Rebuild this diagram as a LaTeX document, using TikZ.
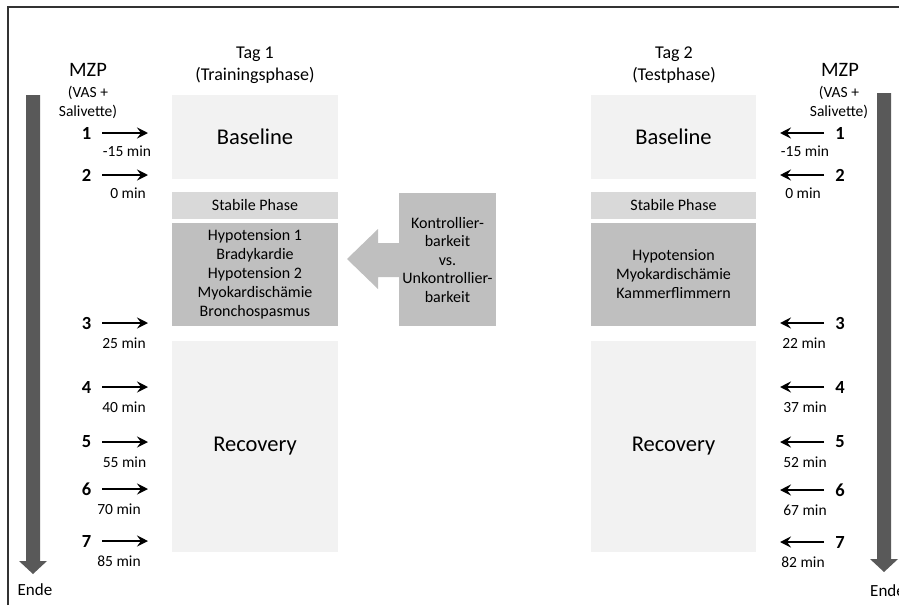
\documentclass[tikz,border=0pt]{standalone}
\usepackage{fontspec}
\setmainfont{Carlito}
\usetikzlibrary{arrows.meta}
\definecolor{lightbox}{HTML}{F2F2F2}
\definecolor{midbox}{HTML}{D9D9D9}
\definecolor{darkbox}{HTML}{BFBFBF}
\definecolor{timebar}{HTML}{595959}
\begin{document}
\begin{tikzpicture}[x=1pt,y=-1pt,
  phase/.style={anchor=north west,inner sep=0pt,outer sep=0pt,align=center,minimum width=166pt},
  mzp/.style={-{Stealth[length=11pt,width=11pt,inset=4pt]},line width=2.4pt,shorten <=9pt},
  num/.style={font=\fontsize{18.5}{20}\selectfont\bfseries,inner sep=2pt},
  tmin/.style={font=\fontsize{15.5}{17}\selectfont,inner sep=0pt}]
  \useasboundingbox (0,0) rectangle (899,605);
  \draw[black!80,line width=1.2pt] (8,605) -- (8,7) -- (899,7);
  % time bars
  \fill[timebar] (26,95) -- (40,95) -- (40,561) -- (47,561) -- (33,574) -- (19,561) -- (26,561) -- cycle;
  \fill[timebar] (877,93) -- (891,93) -- (891,559) -- (898,559) -- (884,572) -- (870,559) -- (877,559) -- cycle;
  \node[font=\fontsize{17}{19}\selectfont] (endeL) at (35,590) {Ende};
  \node[font=\fontsize{17}{19}\selectfont,anchor=west,inner sep=0pt] (endeR) at (870,591) {Ende};
  % Tag 1
  \node[font=\fontsize{18}{22}\selectfont,align=center] (tag1) at (255,65) {Tag 1\\(Trainingsphase)};
  \node[phase,fill=lightbox,minimum height=84pt,font=\fontsize{22.5}{26}\selectfont] (baseL) at (172,95) {Baseline};
  \node[phase,fill=midbox,minimum height=27pt,font=\fontsize{16}{19}\selectfont] (stabL) at (172,192) {Stabile Phase};
  \node[phase,fill=darkbox,minimum height=103pt,font=\fontsize{16}{19}\selectfont] (hypoL) at (172,223)
       {Hypotension 1\\Bradykardie\\Hypotension 2\\Myokardischämie\\Bronchospasmus};
  \node[phase,fill=lightbox,minimum height=211pt,font=\fontsize{22.5}{26}\selectfont] (recL) at (172,341) {Recovery};
  % Tag 2
  \node[font=\fontsize{18}{22}\selectfont,align=center] (tag2) at (674,65) {Tag 2\\(Testphase)};
  \node[phase,fill=lightbox,minimum width=165pt,minimum height=84pt,font=\fontsize{22.5}{26}\selectfont] (baseR) at (591,95) {Baseline};
  \node[phase,fill=midbox,minimum width=165pt,minimum height=27pt,font=\fontsize{16}{19}\selectfont] (stabR) at (591,192) {Stabile Phase};
  \node[phase,fill=darkbox,minimum width=165pt,minimum height=103pt,font=\fontsize{16}{19}\selectfont] (hypoR) at (591,223)
       {Hypotension\\Myokardischämie\\Kammerflimmern};
  \node[phase,fill=lightbox,minimum width=165pt,minimum height=211pt,font=\fontsize{22.5}{26}\selectfont] (recR) at (591,341) {Recovery};
  % Kontrollierbarkeit
  \node[phase,fill=darkbox,minimum width=97pt,minimum height=133pt,font=\fontsize{16}{18.5}\selectfont] (ctrl) at (399,193)
       {Kontrollier-\\barkeit\\vs.\\Unkontrollier-\\barkeit};
  \fill[darkbox] (399.5,243) -- (378,243) -- (378,229) -- (347,259) -- (378,289) -- (378,277) -- (399.5,277) -- cycle;
  % MZP links
  \node[font=\fontsize{20.5}{24}\selectfont] (mzpL) at (88,70) {MZP};
  \node[font=\fontsize{15.5}{19}\selectfont,align=center] (subL) at (88,102) {(VAS +\\Salivette)};
  \node[num] (nL1) at (86.5,133) {1};
  \node[num] (nL2) at (86.5,175) {2};
  \node[num] (nL3) at (86.5,323) {3};
  \node[num] (nL4) at (86.5,387) {4};
  \node[num] (nL5) at (86.5,442) {5};
  \node[num] (nL6) at (86.5,489) {6};
  \node[num] (nL7) at (86.5,541) {7};
  \coordinate (aL1) at (148,133);
  \coordinate (aL2) at (148,175);
  \coordinate (aL3) at (148,323);
  \coordinate (aL4) at (148,387);
  \coordinate (aL5) at (148,442);
  \coordinate (aL6) at (148,489);
  \coordinate (aL7) at (148,541);
  \draw[mzp] (nL1) -- (aL1);
  \draw[mzp] (nL2) -- (aL2);
  \draw[mzp] (nL3) -- (aL3);
  \draw[mzp] (nL4) -- (aL4);
  \draw[mzp] (nL5) -- (aL5);
  \draw[mzp] (nL6) -- (aL6);
  \draw[mzp] (nL7) -- (aL7);
  \node[tmin] (tL1) at (127,151) {-15 min};
  \node[tmin] (tL2) at (128,193) {0 min};
  \node[tmin] (tL3) at (124,343) {25 min};
  \node[tmin] (tL4) at (124,407) {40 min};
  \node[tmin] (tL5) at (124.5,462) {55 min};
  \node[tmin] (tL6) at (119,509) {70 min};
  \node[tmin] (tL7) at (119,561) {85 min};
  % MZP rechts
  \node[font=\fontsize{20.5}{24}\selectfont] (mzpR) at (840,70) {MZP};
  \node[font=\fontsize{15.5}{19}\selectfont,align=center] (subR) at (839,102) {(VAS +\\Salivette)};
  \node[num] (nR1) at (840,133) {1};
  \node[num] (nR2) at (840,175) {2};
  \node[num] (nR3) at (840,323) {3};
  \node[num] (nR4) at (840,387) {4};
  \node[num] (nR5) at (840,442) {5};
  \node[num] (nR6) at (840,490) {6};
  \node[num] (nR7) at (840,542) {7};
  \coordinate (aR1) at (780,133);
  \coordinate (aR2) at (780,175);
  \coordinate (aR3) at (780,323);
  \coordinate (aR4) at (780,387);
  \coordinate (aR5) at (780,442);
  \coordinate (aR6) at (780,490);
  \coordinate (aR7) at (780,542);
  \draw[mzp] (nR1) -- (aR1);
  \draw[mzp] (nR2) -- (aR2);
  \draw[mzp] (nR3) -- (aR3);
  \draw[mzp] (nR4) -- (aR4);
  \draw[mzp] (nR5) -- (aR5);
  \draw[mzp] (nR6) -- (aR6);
  \draw[mzp] (nR7) -- (aR7);
  \node[tmin] (tR1) at (805,151) {-15 min};
  \node[tmin] (tR2) at (803,193) {0 min};
  \node[tmin] (tR3) at (804,343) {22 min};
  \node[tmin] (tR4) at (805,407) {37 min};
  \node[tmin] (tR5) at (805,462) {52 min};
  \node[tmin] (tR6) at (805,510) {67 min};
  \node[tmin] (tR7) at (803,562) {82 min};
\end{tikzpicture}
\end{document}
